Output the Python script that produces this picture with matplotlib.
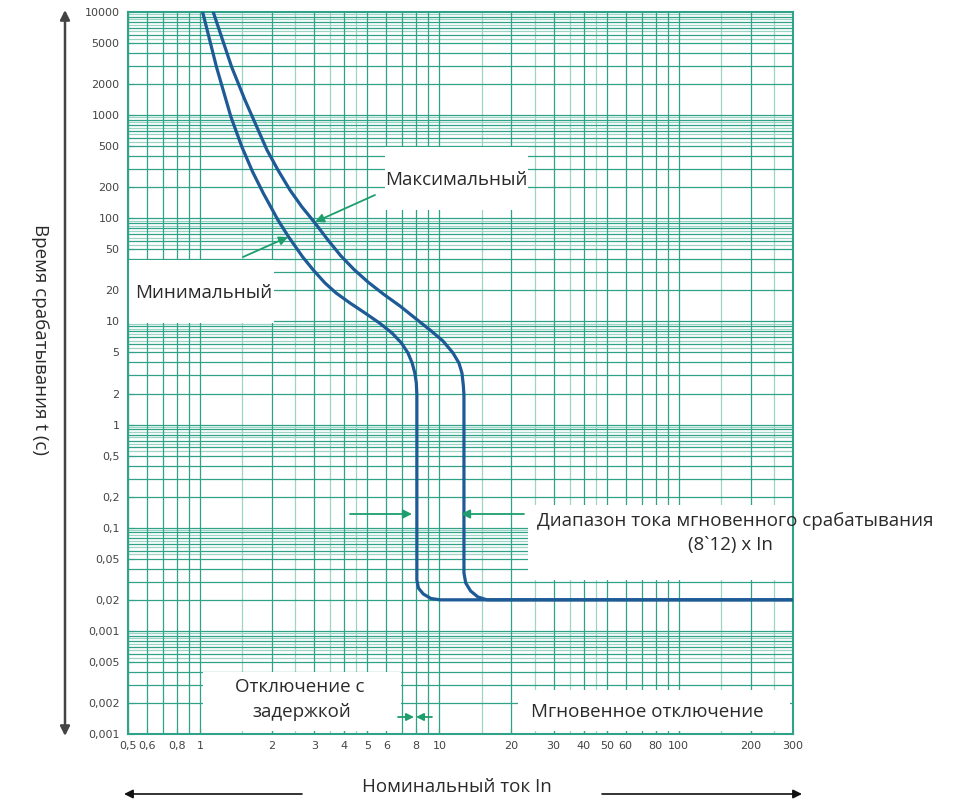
import matplotlib
matplotlib.use('Agg')
import matplotlib.pyplot as plt
from matplotlib.patches import Rectangle, FancyArrowPatch

# ---------------- data ----------------
x_ticks = [0.5, 0.6, 0.8, 1, 2, 3, 4, 5, 6, 8, 10, 20, 30, 40, 50, 60, 80, 100, 200, 300]
x_labels = ['0,5', '0,6', '0,8', '1', '2', '3', '4', '5', '6', '8', '10', '20', '30', '40',
            '50', '60', '80', '100', '200', '300']
y_ticks = [10000, 5000, 2000, 1000, 500, 200, 100, 50, 20, 10, 5, 2, 1, 0.5, 0.2, 0.1,
           0.05, 0.02, 0.01, 0.005, 0.002, 0.001]
y_labels = ['10000', '5000', '2000', '1000', '500', '200', '100', '50', '20', '10', '5', '2',
            '1', '0,5', '0,2', '0,1', '0,05', '0,02', '0,001', '0,005', '0,002', '0,001']

# minimal tripping curve (I/In, t seconds)
x_min = [1.025, 1.171, 1.346, 1.496, 1.659, 1.835, 2.115, 2.345, 2.683, 2.973, 3.325, 3.696,
         4.228, 4.885, 5.616, 6.334, 6.939, 7.386, 7.691, 7.892, 8.007, 8.05,
         8.05, 8.17, 8.56, 9.21, 10.05, 300]
t_min = [10000, 2932, 960, 491, 281, 176, 96.3, 65.9, 42.2, 31.5, 23.6, 18.9,
         15.1, 12.08, 9.66, 7.73, 6.18, 4.95, 3.96, 3.16, 2.53, 1.94,
         0.0311, 0.0260, 0.0228, 0.0206, 0.02, 0.02]

# maximal tripping curve
x_max = [1.135, 1.234, 1.355, 1.540, 1.712, 1.903, 2.115, 2.374, 2.665, 3.020, 3.421, 3.878,
         4.395, 5.028, 5.865, 6.839, 7.902, 9.127, 10.34, 11.39, 12.06, 12.42, 12.58, 12.66,
         12.66, 12.88, 13.50, 14.48, 15.79, 300]
t_max = [10000, 5603, 2932, 1403, 803, 460, 294, 188, 128.8, 90.1, 61.6, 43.1,
         31.9, 24.1, 18.25, 14.12, 10.80, 8.27, 6.47, 4.95, 3.96, 3.16, 2.42, 1.94,
         0.0364, 0.0291, 0.02435, 0.0213, 0.02, 0.02]

# ---------------- figure ----------------
W, H = 957, 802
fig = plt.figure(figsize=(W / 100, H / 100), dpi=100)
L, R, T, B = 128, 793, 12, 734
ax = fig.add_axes([L / W, 1 - B / H, (R - L) / W, (B - T) / H])
ax.set_xscale('log')
ax.set_yscale('log')
ax.set_xlim(0.5, 300)
ax.set_ylim(0.001, 10000)


def axp(px, py):
    return ((px - L) / (R - L), (B - py) / (B - T))


def figp(px, py):
    return (px, H - py)


TEAL = '#2fa287'
TEAL_L = '#9ad5c6'

# grid
xmult_main = [1, 2, 3, 4, 5, 6, 7, 8, 9]
xmult_half = [1.5, 2.5, 3.5, 4.5]
for dec in [0.1, 1, 10, 100]:
    for m in xmult_main:
        v = m * dec
        if 0.5 <= v <= 300:
            ax.axvline(v, color=TEAL, lw=0.9, zorder=0.5)
    for m in xmult_half:
        v = m * dec
        if 0.5 <= v <= 300 and dec >= 1:
            ax.axvline(v, color=TEAL_L, lw=0.9, zorder=0.4)

ymult_main = [1, 2, 3, 4, 5, 6, 7, 8, 9]
ymult_half = [5.5, 6.5, 7.5, 8.5, 9.5]
for dec in [0.001, 0.01, 0.1, 1, 10, 100, 1000]:
    for m in ymult_main:
        ax.axhline(m * dec, color=TEAL, lw=0.9, zorder=0.5)
    for m in ymult_half:
        ax.axhline(m * dec, color=TEAL_L, lw=0.9, zorder=0.4)

# white label boxes
boxes = [(385, 147, 528, 210), (128, 260, 274, 323), (528, 505, 793, 580),
         (203, 672, 401, 731), (518, 690, 790, 731)]
for (x0, y0, x1, y1) in boxes:
    a0 = axp(x0, y1)
    a1 = axp(x1, y0)
    ax.add_patch(Rectangle(a0, a1[0] - a0[0], a1[1] - a0[1], transform=ax.transAxes,
                           facecolor='white', edgecolor='none', zorder=2))

# curves
CURVE = '#1e5a96'
ax.plot(x_min, t_min, color=CURVE, lw=2.3, zorder=3, solid_capstyle='round',
        solid_joinstyle='round')
ax.plot(x_max, t_max, color=CURVE, lw=2.3, zorder=3, solid_capstyle='round',
        solid_joinstyle='round')

# spines / ticks
for s in ax.spines.values():
    s.set_color(TEAL)
    s.set_linewidth(1.5)
ax.minorticks_off()
ax.set_xticks(x_ticks)
ax.set_xticklabels(x_labels)
ax.set_yticks(y_ticks)
ax.set_yticklabels(y_labels)
ax.tick_params(axis='both', direction='in', length=4, color=TEAL, labelsize=8,
               labelcolor='#444444')
ax.tick_params(axis='x', pad=5)
ax.tick_params(axis='y', pad=6)

TXT = '#2a2a2a'
FONT = ['Open Sans', 'DejaVu Sans']
GREEN = '#1d9e6c'
FS = 13.5

# texts
ax.text(*axp(456, 180), 'Максимальный', transform=ax.transAxes, ha='center', va='center',
        fontsize=FS, color=TXT, family=FONT, zorder=4)
ax.text(*axp(204, 293), 'Минимальный', transform=ax.transAxes, ha='center', va='center',
        fontsize=FS, color=TXT, family=FONT, zorder=4)
ax.text(*axp(537, 521), 'Диапазон тока мгновенного срабатывания', transform=ax.transAxes,
        ha='left', va='center', fontsize=FS, color=TXT, family=FONT, zorder=4, clip_on=False)
ax.text(*axp(688, 545), '(8`12) x In', transform=ax.transAxes, ha='left', va='center',
        fontsize=FS, color=TXT, family=FONT, zorder=4)
ax.text(*axp(300, 687), 'Отключение с', transform=ax.transAxes, ha='center', va='center',
        fontsize=FS, color=TXT, family=FONT, zorder=4)
ax.text(*axp(302, 712), 'задержкой', transform=ax.transAxes, ha='center', va='center',
        fontsize=FS, color=TXT, family=FONT, zorder=4)
ax.text(*axp(647, 712), 'Мгновенное отключение', transform=ax.transAxes, ha='center',
        va='center', fontsize=FS, color=TXT, family=FONT, zorder=4)


def garrow(p_from, p_to, ms=13):
    ax.annotate('', xy=axp(*p_to), xytext=axp(*p_from), xycoords='axes fraction',
                textcoords='axes fraction',
                arrowprops=dict(arrowstyle='-|>', color=GREEN, lw=1.3, mutation_scale=ms,
                                shrinkA=0, shrinkB=0), zorder=5)


garrow((375, 195), (315, 222))
garrow((243, 257), (288, 237))
garrow((350, 514), (412, 514))
garrow((524, 514), (461, 514))
garrow((398, 717), (414, 717), ms=11)
garrow((432, 717), (416, 717), ms=11)

# y label and vertical arrow
fig.text(40 / W, 1 - 340 / H, 'Время срабатывания t (c)', rotation=-90, ha='center',
         va='center', fontsize=FS, color=TXT, family=FONT)
fig.add_artist(FancyArrowPatch(
    figp(65, 736), figp(65, 10), transform=None, arrowstyle='<|-|>', color='#444444',
    lw=1.8, mutation_scale=14, shrinkA=0, shrinkB=0))

# x label and horizontal arrows
fig.text(457 / W, 1 - 787 / H, 'Номинальный ток In', ha='center', va='center', fontsize=FS,
         color=TXT, family=FONT)
fig.add_artist(FancyArrowPatch(
    figp(302, 794), figp(124, 794), transform=None, arrowstyle='-|>', color='#111111',
    lw=1.2, mutation_scale=13, shrinkA=0, shrinkB=0))
fig.add_artist(FancyArrowPatch(
    figp(602, 794), figp(802, 794), transform=None, arrowstyle='-|>', color='#111111',
    lw=1.2, mutation_scale=13, shrinkA=0, shrinkB=0))

fig.savefig('out.png', dpi=100, facecolor='white')
